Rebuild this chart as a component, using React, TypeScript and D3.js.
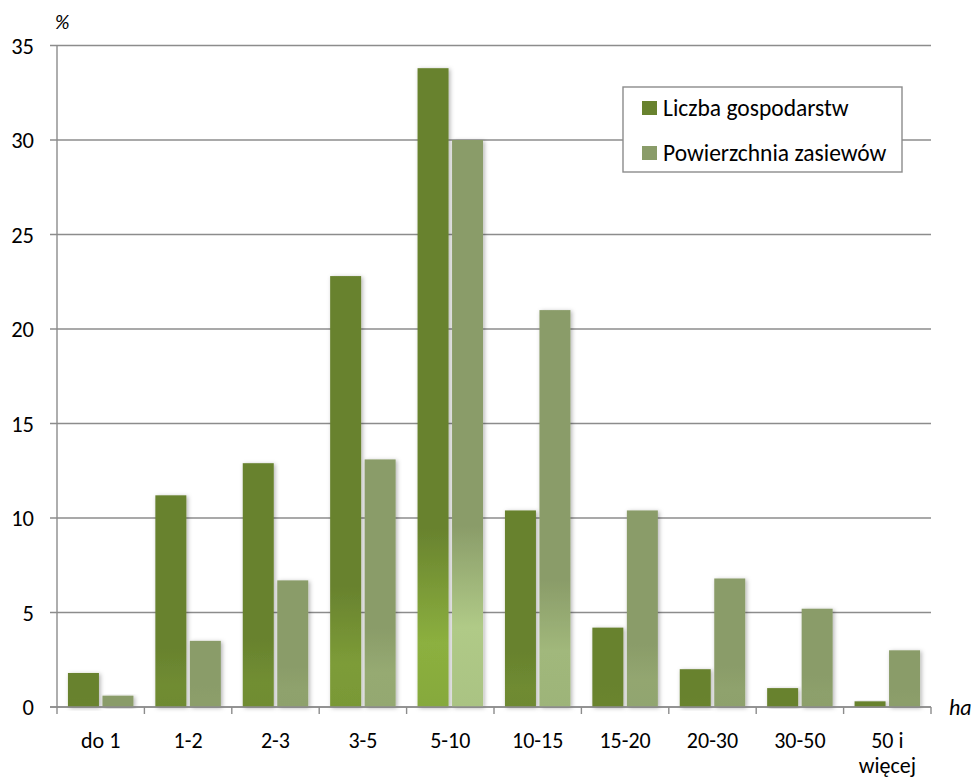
import React from "react";
import * as d3 from "d3";

const categories = ["do 1", "1-2", "2-3", "3-5", "5-10", "10-15", "15-20", "20-30", "30-50", "50 i\nwięcej"];
const liczbaGospodarstw = [1.8, 11.2, 12.9, 22.8, 33.8, 10.4, 4.2, 2.0, 1.0, 0.3];
const powierzchniaZasiewow = [0.6, 3.5, 6.7, 13.1, 30.0, 21.0, 10.4, 6.8, 5.2, 3.0];
const yTicks = [0, 5, 10, 15, 20, 25, 30, 35];
const seriesNames = ["Liczba gospodarstw", "Powierzchnia zasiewów"];

const W = 971;
const H = 778;
const left = 57;
const right = 931;
const top = 45.5;
const bottom = 707;

const seriesColors = [
  { dark: "#68822e", light: "#8cb03f" },
  { dark: "#8a9c69", light: "#b7d38d" },
];

const FONT = "Carlito, Lato, 'Open Sans', sans-serif";

export default function App() {
  const x = d3.scaleBand<string>().domain(categories).range([left, right]).paddingInner(0).paddingOuter(0);
  const y = d3.scaleLinear().domain([0, 35]).range([bottom, top]);
  const bw = x.bandwidth();
  const barW = 31;
  const gap = 3.5;
  const inner = d3.scaleBand<number>().domain([0, 1]).range([bw / 2 - barW - gap / 2, bw / 2 + barW + gap / 2]).paddingInner(gap / (barW + gap)).paddingOuter(0);
  const series = [liczbaGospodarstw, powierzchniaZasiewow];
  const maxV = 34;

  const bars: any[] = [];
  const defs: any[] = [];
  series.forEach((vals, si) => {
    const c = seriesColors[si];
    vals.forEach((v, i) => {
      const t = Math.pow(Math.min(1, v / maxV), 1.4);
      const mid = d3.interpolateRgb(c.dark, c.light)(t);
      const end = d3.interpolateRgb(c.dark, c.light)(t * 0.85);
      const id = `g${si}_${i}`;
      defs.push(
        <linearGradient key={id} id={id} x1="0" y1="0" x2="0" y2="1">
          <stop offset="0" stopColor={c.dark} />
          <stop offset={si === 0 ? 0.72 : 0.68} stopColor={c.dark} />
          <stop offset={si === 0 ? 0.9 : 0.86} stopColor={mid} />
          <stop offset="1" stopColor={end} />
        </linearGradient>
      );
      const bx = (x(categories[i]) as number) + (inner(si) as number);
      const byTop = y(v);
      bars.push(
        <rect key={`b${si}_${i}`} x={bx} y={byTop} width={inner.bandwidth()} height={y(0) - byTop} fill={`url(#${id})`} filter="url(#shadow)" />
      );
    });
  });

  return (
    <svg width={W} height={H} style={{ position: "absolute", left: 0, top: 0, background: "#fff" }} fontFamily={FONT}>
      <defs>
        {defs}
        <filter id="shadow" x="-30%" y="-10%" width="160%" height="120%">
          <feDropShadow dx="1.5" dy="1" stdDeviation="2" floodColor="#000" floodOpacity="0.3" />
        </filter>
      </defs>
      {yTicks.map((t) => (
        <line key={`gl${t}`} x1={left - 7} x2={right} y1={y(t)} y2={y(t)} stroke="#8c8c8c" strokeWidth={1.4} />
      ))}
      {yTicks.map((t) => (
        <text key={`yl${t}`} x={34} y={y(t)} dy="0.36em" textAnchor="end" fontSize={22.5} fill="#000">
          {t}
        </text>
      ))}
      <line x1={left} x2={left} y1={top} y2={bottom} stroke="#8c8c8c" strokeWidth={1.4} />
      {bars}
      <line x1={left - 7} x2={right} y1={bottom} y2={bottom} stroke="#8c8c8c" strokeWidth={1.6} />
      {categories.map((c, i) => (
        <line key={`xt${i}`} x1={x(c) as number} x2={x(c) as number} y1={bottom} y2={bottom + 7} stroke="#8c8c8c" strokeWidth={1.4} />
      ))}
      <line x1={right} x2={right} y1={bottom} y2={bottom + 7} stroke="#8c8c8c" strokeWidth={1.4} />
      {categories.map((c, i) => {
        const lines = c.split("\n");
        const cx = (x(c) as number) + bw / 2;
        return (
          <text key={`xl${i}`} x={cx} y={748} textAnchor="middle" fontSize={22} fill="#000">
            {lines.map((l, j) => (
              <tspan key={j} x={cx} dy={j === 0 ? 0 : 25}>
                {l}
              </tspan>
            ))}
          </text>
        );
      })}
      <text x={55} y={29} fontSize={20} fontStyle="italic" fill="#000">%</text>
      <text x={949} y={715} fontSize={22} fontStyle="italic" fill="#000">ha</text>
      <rect x={623} y={87} width={279} height={85} fill="#fff" stroke="#8c8c8c" strokeWidth={1.4} />
      {seriesNames.map((n, i) => (
        <g key={`lg${i}`}>
          <rect x={642} y={101 + i * 45} width={15} height={14} fill={seriesColors[i].dark} />
          <text x={663} y={108 + i * 45} dy="0.36em" fontSize={23.5} fill="#000">
            {n}
          </text>
        </g>
      ))}
    </svg>
  );
}
